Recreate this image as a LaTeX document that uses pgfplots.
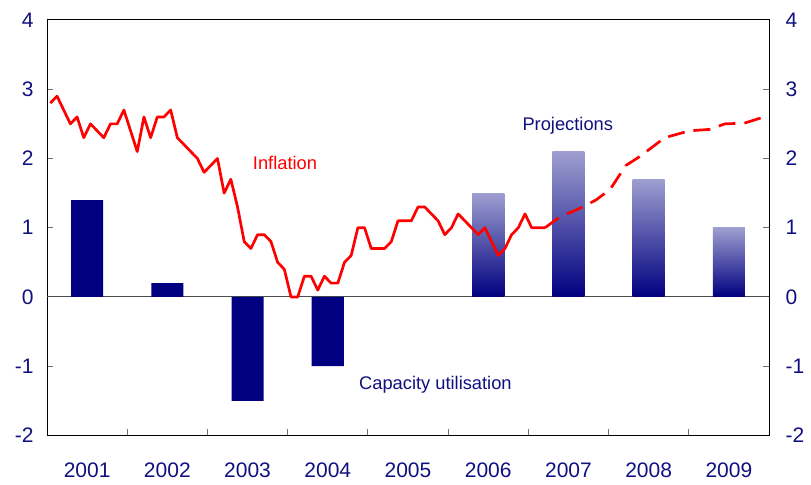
\documentclass[border=0pt]{standalone}
\usepackage{fontspec}
\setmainfont{Liberation Sans}
\usepackage{pgfplots}
\pgfplotsset{compat=1.18}

\definecolor{navy}{RGB}{0,0,128}
\definecolor{navytext}{RGB}{16,16,128}
\definecolor{projtop}{RGB}{158,158,208}
\definecolor{ticksgray}{RGB}{110,110,110}
\newcommand\tickfont{\fontsize{21bp}{24bp}\selectfont}
\newcommand\notefont{\fontsize{18.3bp}{21bp}\selectfont}

\begin{document}
\begin{tikzpicture}
\begin{axis}[
    scale only axis, width=722bp, height=415.5bp,
    xmin=0, xmax=108, ymin=-2, ymax=4,
    axis line style={black, line width=1bp},
    tick align=inside,
    xtick={6,18,...,102},
    xticklabels={2001,2002,2003,2004,2005,2006,2007,2008,2009},
    minor xtick={12,24,...,96},
    xtick pos=bottom,
    major x tick style={draw=none},
    minor tick length=6bp,
    major tick length=6bp,
    tick style={ticksgray, line width=1bp},
    ytick={-2,...,4},
    yticklabels={-2,-1,0,1,2,3,4},
    ytick pos=both, yticklabel pos=left,
    ticklabel style={font=\tickfont, text=navytext},
    xticklabel style={yshift=-24bp},
    yticklabel style={xshift=-10bp},
]
% zero line
\addplot[ticksgray!70!black, line width=1bp, forget plot] coordinates {(0,0) (108,0)};

% capacity utilisation, outturns
\addplot[ybar, bar width=4.8, bar shift=0pt, fill=navy, draw=none]
  coordinates {(6,1.4) (18,0.2) (30,-1.5) (42,-1.0)};

% capacity utilisation, projections (shaded)
\addplot[ybar, bar width=4.8, bar shift=0pt, draw=none, top color=projtop, bottom color=navy] coordinates {(66,1.5)};
\addplot[ybar, bar width=4.8, bar shift=0pt, draw=none, top color=projtop, bottom color=navy] coordinates {(78,2.1)};
\addplot[ybar, bar width=4.8, bar shift=0pt, draw=none, top color=projtop, bottom color=navy] coordinates {(90,1.7)};
\addplot[ybar, bar width=4.8, bar shift=0pt, draw=none, top color=projtop, bottom color=navy] coordinates {(102,1.0)};

% inflation, monthly
\addplot[red, line width=2.7bp, line join=round] coordinates {
  (0.5,2.8)(1.5,2.9)(2.5,2.7)(3.5,2.5)(4.5,2.6)(5.5,2.3)(6.5,2.5)(7.5,2.4)(8.5,2.3)(9.5,2.5)(10.5,2.5)(11.5,2.7)
  (12.5,2.4)(13.5,2.1)(14.5,2.6)(15.5,2.3)(16.5,2.6)(17.5,2.6)(18.5,2.7)(19.5,2.3)(20.5,2.2)(21.5,2.1)(22.5,2.0)(23.5,1.8)
  (24.5,1.9)(25.5,2.0)(26.5,1.5)(27.5,1.7)(28.5,1.3)(29.5,0.8)(30.5,0.7)(31.5,0.9)(32.5,0.9)(33.5,0.8)(34.5,0.5)(35.5,0.4)
  (36.5,0.0)(37.5,0.0)(38.5,0.3)(39.5,0.3)(40.5,0.1)(41.5,0.3)(42.5,0.2)(43.5,0.2)(44.5,0.5)(45.5,0.6)(46.5,1.0)(47.5,1.0)
  (48.5,0.7)(49.5,0.7)(50.5,0.7)(51.5,0.8)(52.5,1.1)(53.5,1.1)(54.5,1.1)(55.5,1.3)(56.5,1.3)(57.5,1.2)(58.5,1.1)(59.5,0.9)
  (60.5,1.0)(61.5,1.2)(62.5,1.1)(63.5,1.0)(64.5,0.9)(65.5,1.0)(66.5,0.8)(67.5,0.6)(68.5,0.7)(69.5,0.9)(70.5,1.0)(71.5,1.2)
  (72.5,1.0)(73.5,1.0)(74.5,1.0)};

% inflation, projection
\addplot[red, line width=2.7bp, line join=round, dash pattern=on 17bp off 9bp] coordinates {
  (74.5,1.0)(76.6,1.15)(79.7,1.28)(82.1,1.4)(84.2,1.55)(86.6,1.9)(88.7,2.03)
  (92.4,2.3)(96.1,2.4)(99.1,2.42)(101.4,2.5)(104.3,2.51)(107.9,2.62)};

\node[red, font=\notefont] at (axis cs:35.6,1.94) {Inflation};
\node[navytext, font=\notefont] at (axis cs:77.9,2.47) {Projections};
\node[navytext, font=\notefont] at (axis cs:58.1,-1.27) {Capacity utilisation};

\coordinate (SW) at (rel axis cs:0,0);
\coordinate (NE) at (rel axis cs:1,1);
\end{axis}

% right-hand labels
\begin{axis}[
    scale only axis, width=722bp, height=415.5bp,
    xmin=0, xmax=108, ymin=-2, ymax=4,
    hide x axis,
    axis y line*=right,
    axis line style={black, line width=1bp},
    ytick={-2,...,4},
    yticklabels={-2,-1,0,1,2,3,4},
    major tick length=0pt,
    ticklabel style={font=\tickfont, text=navytext},
    yticklabel style={xshift=13bp},
]
\end{axis}

\useasboundingbox ([shift={(-47bp,-49.5bp)}]SW) rectangle ([shift={(42bp,20bp)}]NE);
\end{tikzpicture}
\end{document}
